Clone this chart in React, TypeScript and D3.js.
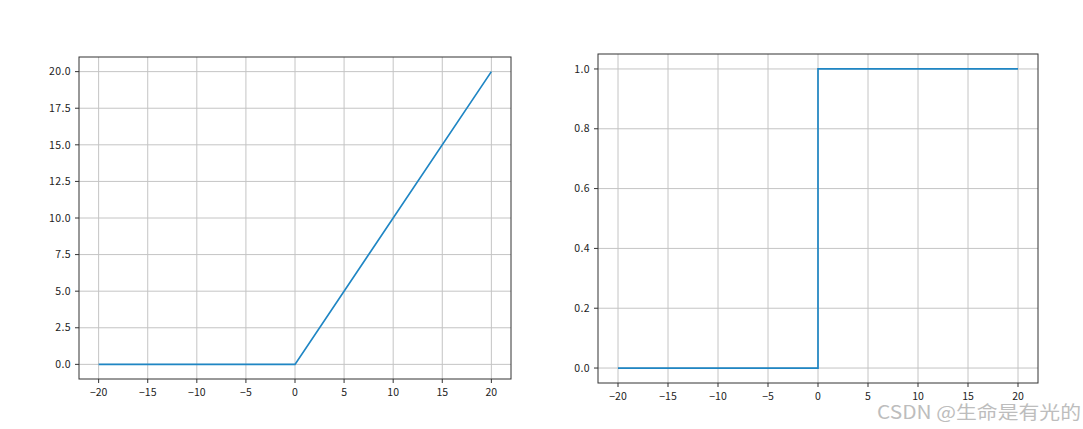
import React from "react";
import * as d3 from "d3";

const reluX = [-20, 0, 20];
const reluY = [0, 0, 20];
const stepX = [-20, 0, 0, 20];
const stepY = [0, 0, 1, 1];
const xTicks = [-20, -15, -10, -5, 0, 5, 10, 15, 20];
const reluYTicks = [0, 2.5, 5, 7.5, 10, 12.5, 15, 17.5, 20];
const stepYTicks = [0, 0.2, 0.4, 0.6, 0.8, 1.0];
const watermark = "CSDN @生命是有光的";

const FONT = "'Noto Sans CJK SC', 'DejaVu Sans', sans-serif";
const LINE = "#1f86c4";

type PanelProps = {
  left: number; top: number; right: number; bottom: number;
  xs: number[]; ys: number[]; yDomain: [number, number]; yTicks: number[];
};

function Panel({ left, top, right, bottom, xs, ys, yDomain, yTicks }: PanelProps) {
  const x = d3.scaleLinear().domain([-22, 22]).range([left, right]);
  const y = d3.scaleLinear().domain(yDomain).range([bottom, top]);
  const line = d3.line<number>().x((_, i) => x(xs[i])).y((d) => y(d));
  return (
    <g>
      {xTicks.map((t) => (
        <line key={"gx" + t} x1={x(t)} x2={x(t)} y1={top} y2={bottom} stroke="#c4c4c4" strokeWidth={1} />
      ))}
      {yTicks.map((t) => (
        <line key={"gy" + t} x1={left} x2={right} y1={y(t)} y2={y(t)} stroke="#c4c4c4" strokeWidth={1} />
      ))}
      <path d={line(ys) || ""} fill="none" stroke={LINE} strokeWidth={1.7} />
      <rect x={left} y={top} width={right - left} height={bottom - top} fill="none" stroke="#333" strokeWidth={1} />
      {xTicks.map((t) => (
        <g key={"tx" + t}>
          <line x1={x(t)} x2={x(t)} y1={bottom} y2={bottom + 4} stroke="#333" />
          <text x={x(t)} y={bottom + 17} textAnchor="middle" fontSize={10.5} fill="#222" fontFamily={FONT}>
            {t < 0 ? "\u2212" + Math.abs(t) : String(t)}
          </text>
        </g>
      ))}
      {yTicks.map((t) => (
        <g key={"ty" + t}>
          <line x1={left - 4} x2={left} y1={y(t)} y2={y(t)} stroke="#333" />
          <text x={left - 8} y={y(t) + 3.7} textAnchor="end" fontSize={10.5} fill="#222" fontFamily={FONT} letterSpacing={0.4}>
            {t.toFixed(1)}
          </text>
        </g>
      ))}
    </g>
  );
}

export default function App() {
  return (
    <svg width={1083} height={429} style={{ position: "absolute", left: 0, top: 0, background: "#fff" }}>
      <rect width={1083} height={429} fill="#fff" />
      <Panel left={79} top={57} right={511} bottom={379} xs={reluX} ys={reluY} yDomain={[-1, 21]} yTicks={reluYTicks} />
      <Panel left={598} top={54} right={1038} bottom={383} xs={stepX} ys={stepY} yDomain={[-0.05, 1.05]} yTicks={stepYTicks} />
      <text x={877} y={419} fontSize={18} fill="#bdbdbd" fontFamily={FONT} textLength={204} lengthAdjust="spacingAndGlyphs">
        {watermark}
      </text>
    </svg>
  );
}
